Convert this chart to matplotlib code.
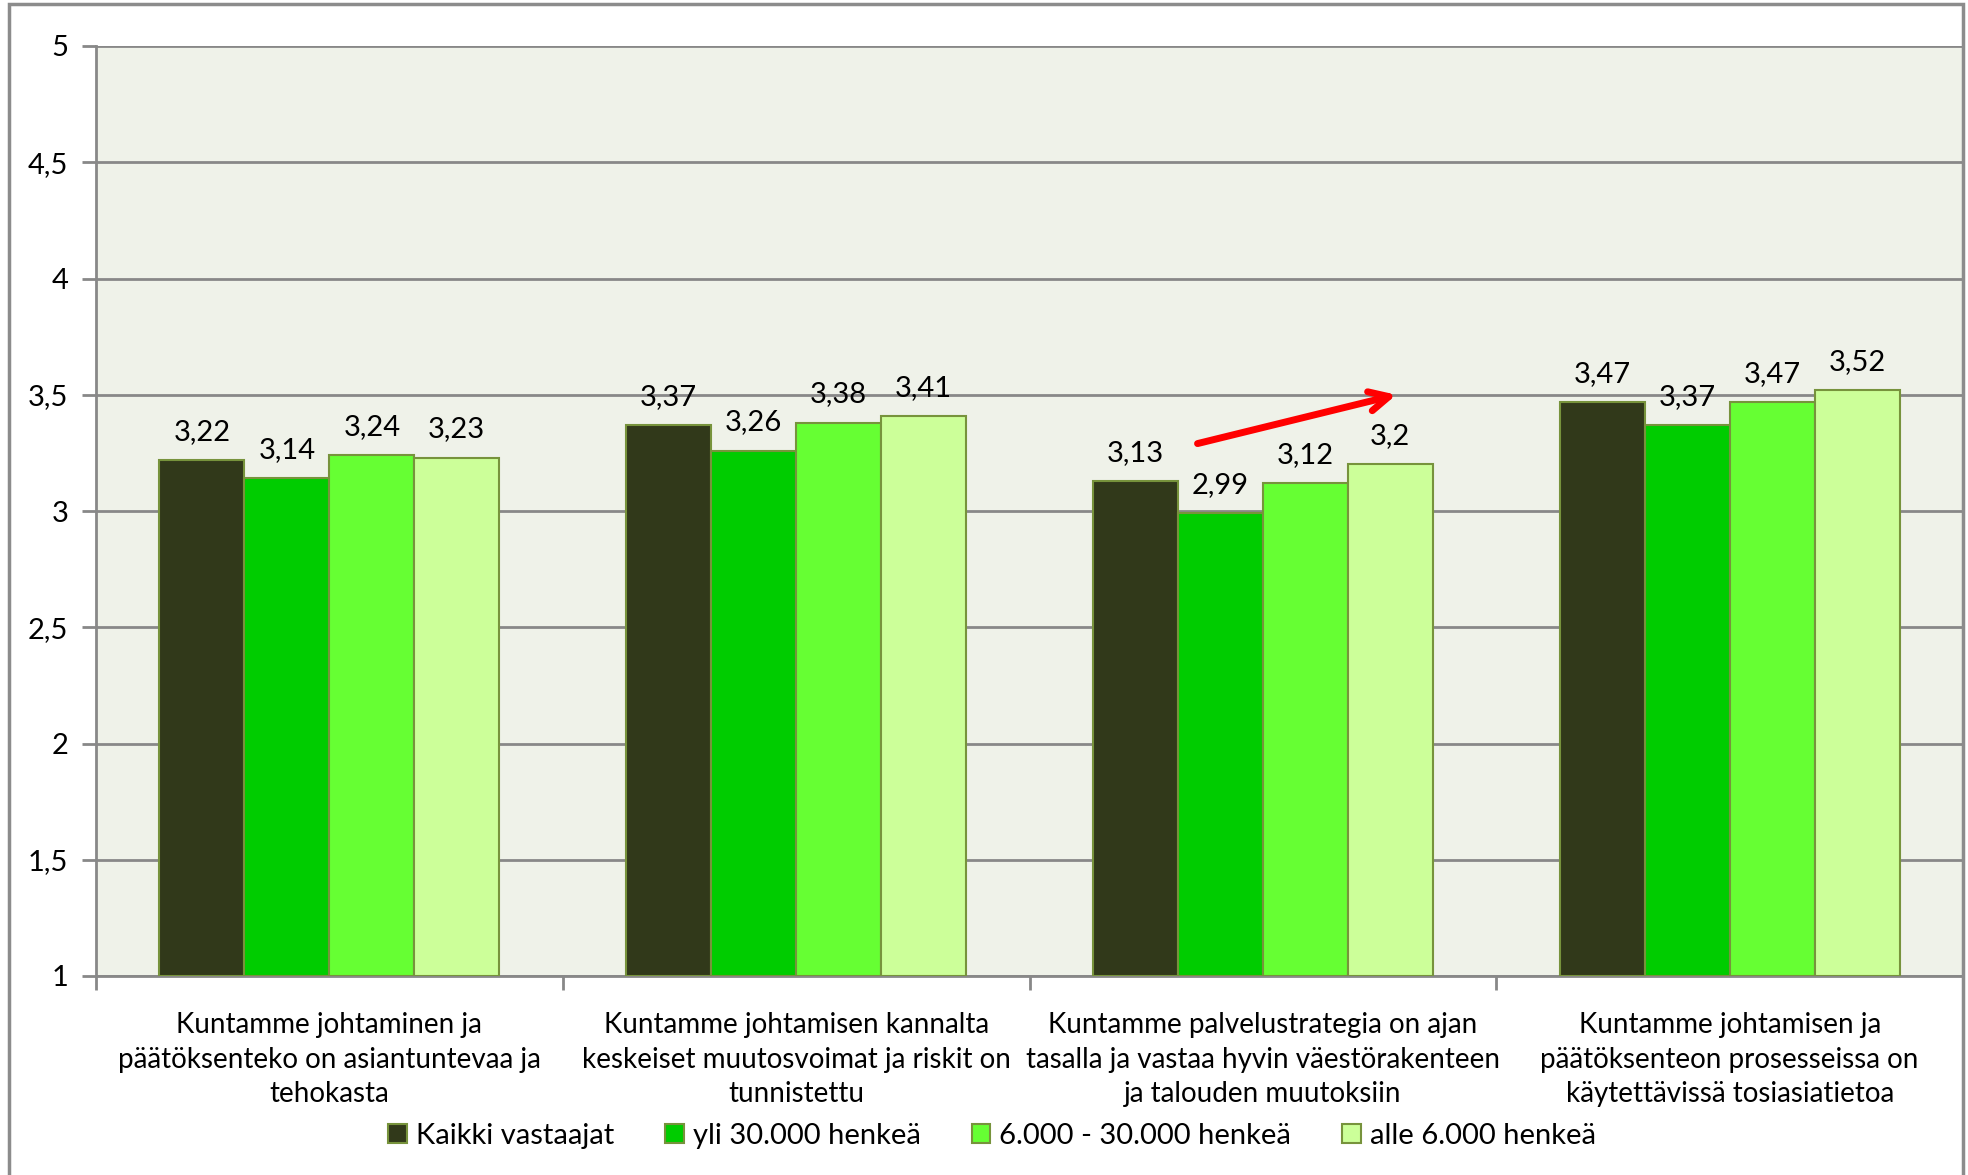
import numpy as np
import matplotlib
matplotlib.use("Agg")
import matplotlib.pyplot as plt
from matplotlib.patches import Rectangle

plt.rcParams['font.family'] = ['Lato', 'DejaVu Sans']

# data
categories = [
    "Kuntamme johtaminen ja\npäätöksenteko on asiantuntevaa ja\ntehokasta",
    "Kuntamme johtamisen kannalta\nkeskeiset muutosvoimat ja riskit on\ntunnistettu",
    "Kuntamme palvelustrategia on ajan\ntasalla ja vastaa hyvin väestörakenteen\nja talouden muutoksiin",
    "Kuntamme johtamisen ja\npäätöksenteon prosesseissa on\nkäytettävissä tosiasiatietoa",
]
series_names = ["Kaikki vastaajat", "yli 30.000 henkeä",
                "6.000 - 30.000 henkeä", "alle 6.000 henkeä"]
kaikki = [3.22, 3.37, 3.13, 3.47]
yli30 = [3.14, 3.26, 2.99, 3.37]
mid = [3.24, 3.38, 3.12, 3.47]
alle6 = [3.23, 3.41, 3.2, 3.52]
series = [kaikki, yli30, mid, alle6]
yticks = [1, 1.5, 2, 2.5, 3, 3.5, 4, 4.5, 5]

colors = ['#31391a', '#00cc00', '#66ff33', '#ccff99']
edge = '#77933c'
grid_c = '#888888'

fig = plt.figure(figsize=(19.68, 11.75), dpi=100, facecolor='white')
ax = fig.add_axes([96/1968, 1-976/1175, (1963-96)/1968, (976-46)/1175])
ax.set_facecolor('#eff2e9')

# outer chart border
fig.patches.append(Rectangle((9/1968, -0.05), (1963-9)/1968, 1.05-4/1175,
                             transform=fig.transFigure, fill=False,
                             edgecolor='#8c8c8c', linewidth=2.5, zorder=10))

x = np.arange(len(categories))
w = 0.182
for i, (vals, name, c) in enumerate(zip(series, series_names, colors)):
    pos = x + (i - 1.5) * w
    ax.bar(pos, [v - 1 for v in vals], width=w, bottom=1, color=c,
           edgecolor=edge, linewidth=1.5, label=name, zorder=3)
    for p, v in zip(pos, vals):
        ax.text(p, v + 0.065, str(v).replace('.', ','), ha='center', va='bottom',
                fontsize=21, color='black')

ax.set_xlim(-0.5, len(categories) - 0.5)
ax.set_ylim(1, 5)
ax.set_yticks(yticks)
ax.set_yticklabels([str(t).replace('.0', '').replace('.', ',') for t in yticks])
ax.yaxis.grid(True, color=grid_c, linewidth=2, zorder=1)
ax.set_xticks(x)
ax.set_xticklabels(categories, fontsize=20, linespacing=1.4)
ax.set_xticks(np.arange(len(categories) + 1) - 0.5, minor=True)
ax.tick_params(axis='x', which='major', length=0, pad=26)
ax.tick_params(axis='x', which='minor', length=10, width=2, color=grid_c)
ax.tick_params(axis='y', length=10, width=2, color=grid_c, labelsize=21, pad=10)

for s in ['top', 'right']:
    ax.spines[s].set_visible(False)
for s in ['left', 'bottom']:
    ax.spines[s].set_color(grid_c)
    ax.spines[s].set_linewidth(2)

# red trend arrow over the third group
ax.annotate('', xy=(2 + 0.286, 3.50), xytext=(2 - 0.14, 3.29),
            arrowprops=dict(arrowstyle='->', color='red', lw=5,
                            mutation_scale=35, shrinkA=0, shrinkB=0), zorder=5)

fig.legend(loc='center', bbox_to_anchor=(0.504, 39/1175), ncol=4, frameon=False,
           fontsize=21, handlelength=0.65, handleheight=0.65, handletextpad=0.3,
           columnspacing=1.75)

fig.savefig('out.png', dpi=100, facecolor='white')
